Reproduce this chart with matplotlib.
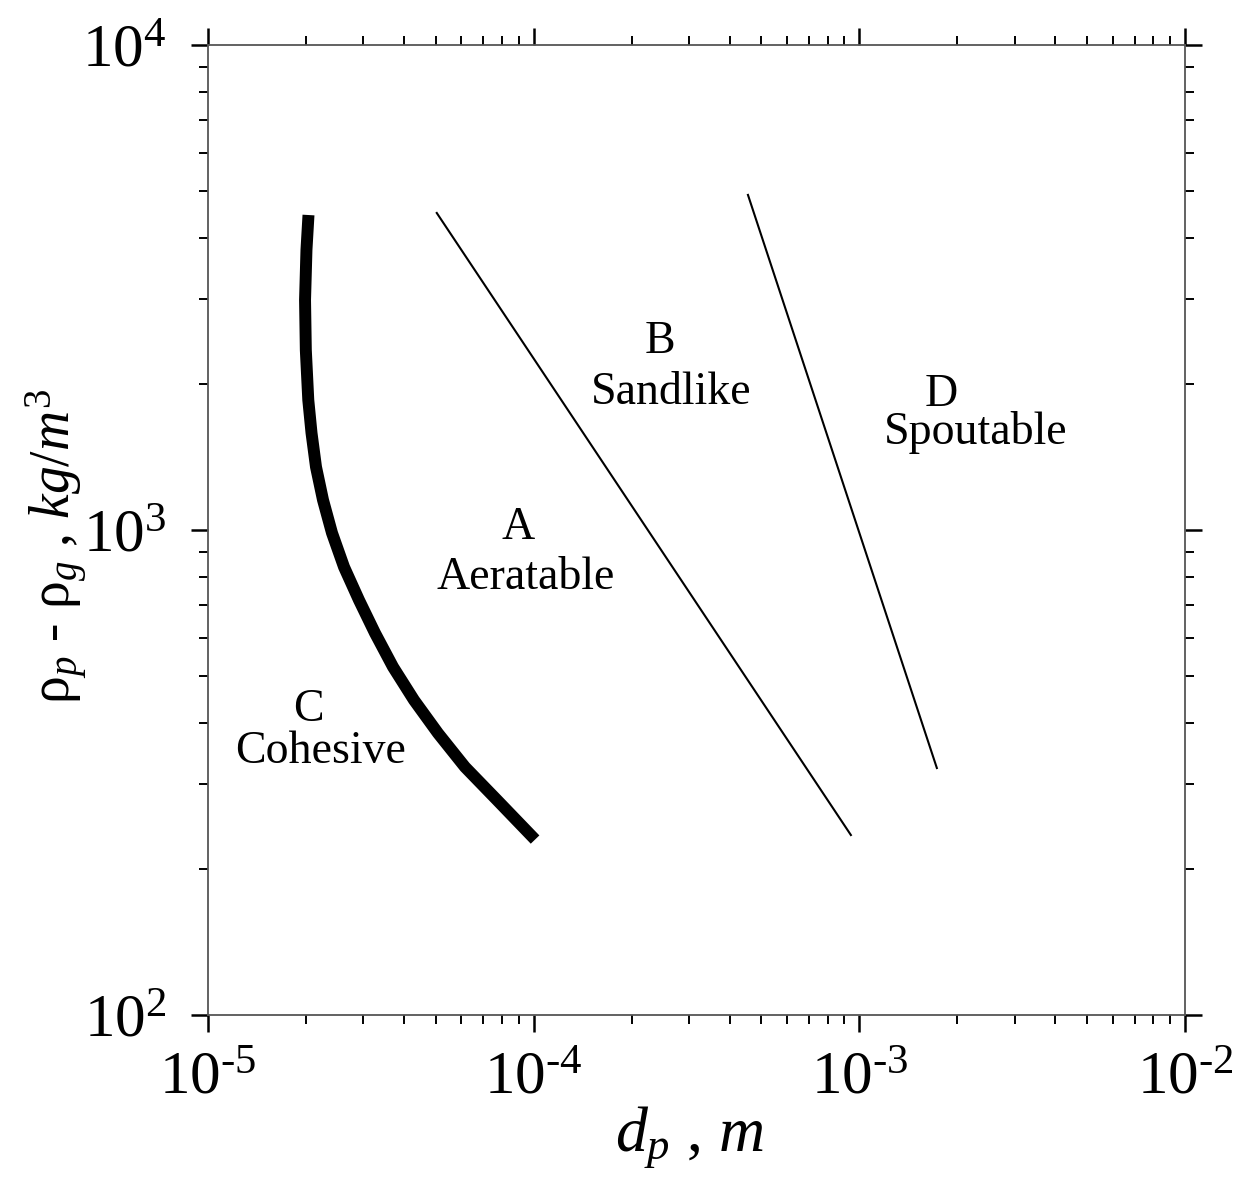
import numpy as np
import matplotlib
matplotlib.use("Agg")
import matplotlib.pyplot as plt
from matplotlib.ticker import LogLocator, NullFormatter, FuncFormatter

plt.rcParams['font.family'] = ['Liberation Serif', 'DejaVu Serif']
plt.rcParams['mathtext.fontset'] = 'custom'
plt.rcParams['mathtext.rm'] = 'Liberation Serif'
plt.rcParams['mathtext.it'] = 'Liberation Serif:italic'
plt.rcParams['mathtext.bf'] = 'Liberation Serif:bold'
plt.rcParams['axes.unicode_minus'] = False

# C / A boundary (thick curve)
ca_d = [2.035e-5, 2.006e-5, 1.986e-5, 1.997e-5, 2.032e-5, 2.079e-5, 2.146e-5, 2.255e-5,
        2.403e-5, 2.616e-5, 2.908e-5, 3.257e-5, 3.699e-5, 4.29e-5, 5.085e-5, 6.153e-5,
        7.716e-5, 1.01e-4]
ca_rho = [4461, 3778, 2980, 2350, 1854, 1585, 1349, 1153,
          986, 839, 717, 613, 522, 446, 381, 324.6,
          277.5, 230]
# A / B boundary
ab_d = [5.04e-5, 9.42e-4]
ab_rho = [4505, 235]
# B / D boundary
bd_d = [4.55e-4, 1.73e-3]
bd_rho = [4908, 323]

# region labels
region_letters = ["C", "A", "B", "D"]
region_names = ["Cohesive", "Aeratable", "Sandlike", "Spoutable"]
letter_d = [2.03e-5, 8.95e-5, 2.44e-4, 1.78e-3]
letter_rho = [425, 1009, 2443, 1899]
name_d = [2.22e-5, 9.47e-5, 2.64e-4, 2.28e-3]
name_rho = [349, 796, 1917, 1585]


def log_fmt(v, pos):
    e = int(round(np.log10(v)))
    if e < 0:
        return r'$\mathdefault{10^{' + '\u2010' + str(-e) + '}}$'
    return r'$\mathdefault{10^{' + str(e) + '}}$'


fig = plt.figure(figsize=(12.41, 11.82), dpi=100)
ax = fig.add_axes([208/1241, 1-1015/1182, (1185-208)/1241, (1015-45)/1182])

ax.plot(ca_d, ca_rho, color='black', lw=8.6, solid_capstyle='butt', solid_joinstyle='round')
ax.plot(ab_d, ab_rho, color='black', lw=1.5)
ax.plot(bd_d, bd_rho, color='black', lw=1.5)

for L, N, xl, yl, xn, yn in zip(region_letters, region_names, letter_d, letter_rho, name_d, name_rho):
    ax.text(xl, yl, L, fontsize=33, ha='center', va='center')
    ax.text(xn, yn, N, fontsize=33, ha='center', va='center')

ax.set_xscale('log')
ax.set_yscale('log')
ax.set_xlim(1e-5, 1e-2)
ax.set_ylim(1e2, 1e4)

ax.xaxis.set_major_locator(LogLocator(base=10, numticks=10))
ax.yaxis.set_major_locator(LogLocator(base=10, numticks=10))
ax.xaxis.set_minor_locator(LogLocator(base=10, subs=np.arange(2, 10), numticks=20))
ax.yaxis.set_minor_locator(LogLocator(base=10, subs=np.arange(2, 10), numticks=20))
ax.xaxis.set_major_formatter(FuncFormatter(log_fmt))
ax.yaxis.set_major_formatter(FuncFormatter(log_fmt))
ax.xaxis.set_minor_formatter(NullFormatter())
ax.yaxis.set_minor_formatter(NullFormatter())

for s in ax.spines.values():
    s.set_color('#555555')
    s.set_linewidth(1.3)

ax.tick_params(which='major', direction='out', length=12, width=1.8, color='black',
               top=True, right=True, labelsize=44, pad=14)
ax.tick_params(axis='y', which='major', pad=18)
ax.tick_params(which='minor', direction='out', length=6.5, width=1.4, color='black',
               top=True, right=True)

ax.set_xlabel(r'$d_p$ , $m$', fontsize=46)
ax.xaxis.set_label_coords(0.493, -0.092)
ax.set_ylabel(r'ρ$_p$ - ρ$_g$ , $kg/m^3$', fontsize=40)
ax.yaxis.set_label_coords(-0.121, 0.4835)

fig.savefig('out.png', dpi=100)
